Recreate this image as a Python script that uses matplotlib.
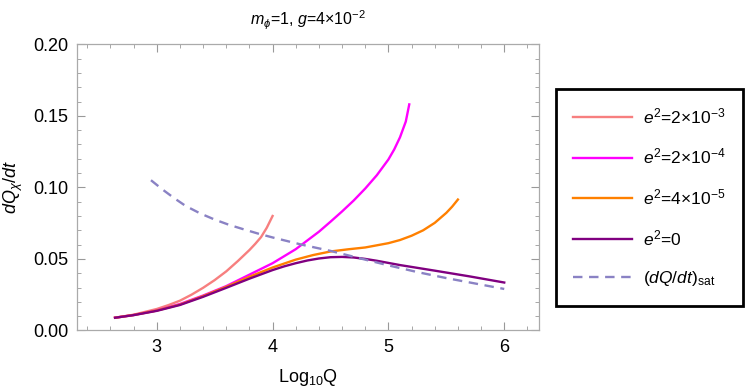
import matplotlib
matplotlib.use("Agg")
import matplotlib.pyplot as plt
from matplotlib.ticker import MultipleLocator

plt.rcParams['font.family'] = ['Liberation Sans', 'DejaVu Sans']
plt.rcParams['mathtext.fontset'] = 'custom'
plt.rcParams['mathtext.rm'] = 'Liberation Sans'
plt.rcParams['mathtext.it'] = 'Liberation Sans:italic'
plt.rcParams['mathtext.bf'] = 'Liberation Sans:bold'

# values (x = log10 Q)
x_e3 = [2.64, 2.8, 3.0, 3.1, 3.2, 3.3, 3.4, 3.5, 3.6, 3.7, 3.8, 3.85, 3.9, 3.95, 4.0]
y_e3 = [0.0089, 0.0110, 0.0150, 0.0177, 0.0208, 0.0250, 0.0298, 0.0352, 0.0413, 0.0485, 0.0562, 0.0605, 0.0652, 0.0718, 0.0800]

x_e4 = [2.64, 2.8, 3.0, 3.2, 3.4, 3.6, 3.8, 4.0, 4.2, 4.4, 4.5, 4.6, 4.7, 4.8, 4.9, 5.0, 5.05, 5.1, 5.15, 5.18]
y_e4 = [0.0089, 0.0108, 0.0140, 0.0185, 0.0244, 0.0310, 0.0390, 0.0470, 0.0568, 0.0690, 0.0760, 0.0832, 0.0908, 0.0992, 0.1085, 0.1195, 0.1265, 0.1350, 0.1460, 0.1580]

x_e5 = [2.64, 2.8, 3.0, 3.2, 3.4, 3.6, 3.8, 4.0, 4.2, 4.35, 4.5, 4.65, 4.8, 5.0, 5.1, 5.2, 5.3, 5.4, 5.5, 5.55, 5.6]
y_e5 = [0.0089, 0.0108, 0.0139, 0.0181, 0.0240, 0.0305, 0.0375, 0.0440, 0.0495, 0.0527, 0.0552, 0.0567, 0.0580, 0.0610, 0.0632, 0.0662, 0.0700, 0.0752, 0.0822, 0.0865, 0.0915]

x_e0 = [2.64, 2.8, 3.0, 3.2, 3.4, 3.6, 3.8, 4.0, 4.1, 4.2, 4.3, 4.4, 4.5, 4.6, 4.7, 4.8, 4.9, 5.1, 5.4, 5.7, 6.0]
y_e0 = [0.0089, 0.0107, 0.0137, 0.0178, 0.0235, 0.0298, 0.0362, 0.0422, 0.0448, 0.0470, 0.0489, 0.0503, 0.0512, 0.0514, 0.0510, 0.0500, 0.0487, 0.0457, 0.0418, 0.0378, 0.0335]

x_sat = [2.95, 3.05, 3.15, 3.25, 3.375, 3.5, 3.625, 3.75, 3.875, 4.0, 4.25, 4.5, 4.75, 5.0, 5.25, 5.5, 5.75, 6.0]
y_sat = [0.105, 0.0985, 0.0925, 0.0870, 0.0818, 0.0775, 0.0738, 0.0707, 0.0677, 0.0650, 0.0600, 0.0556, 0.0505, 0.0455, 0.0408, 0.0366, 0.0328, 0.0290]

labels = [r'$e^2$=2×10$^{-3}$',
          r'$e^2$=2×10$^{-4}$',
          r'$e^2$=4×10$^{-5}$',
          r'$e^2$=0',
          r'($dQ/dt$)$_{\mathrm{sat}}$']

fig = plt.figure(figsize=(7.46, 3.92), dpi=100)
ax = fig.add_axes([0.103, 0.157, 0.6195, 0.730])

lw = 1.7
ax.plot(x_e3, y_e3, color='#f77f7f', lw=lw, label=labels[0])
ax.plot(x_e4, y_e4, color='#ff00ff', lw=lw, label=labels[1])
ax.plot(x_e5, y_e5, color='#ff8000', lw=lw, label=labels[2])
ax.plot(x_e0, y_e0, color='#800080', lw=lw, label=labels[3])
ax.plot(x_sat, y_sat, color='#8a82c4', lw=lw, ls=(0, (4, 2.8)), label=labels[4])

ax.set_xlim(2.31, 6.30)
ax.set_ylim(0, 0.20)
ax.xaxis.set_major_locator(MultipleLocator(1))
ax.xaxis.set_minor_locator(MultipleLocator(0.2))
ax.yaxis.set_minor_locator(MultipleLocator(0.01))
ax.set_yticks([0, 0.05, 0.10, 0.15, 0.20])
ax.set_yticklabels(["0.00", "0.05", "0.10", "0.15", "0.20"])
ax.tick_params(which='both', direction='in', top=True, right=True, color='#999999', labelsize=13, pad=6)
ax.tick_params(which='major', length=6, width=0.8)
ax.tick_params(which='minor', length=3, width=0.6)
for s in ax.spines.values():
    s.set_color('#aaaaaa')
    s.set_linewidth(0.9)

ax.set_xlabel(r'Log$_{10}$Q', fontsize=13, labelpad=8)
ax.set_ylabel(r'$dQ_{\chi}/dt$', fontsize=13, labelpad=6)
ax.set_title(r'$m_{\phi}$=1, $g$=4×10$^{-2}$', fontsize=11.5, pad=14)

leg = fig.legend(loc='center', bbox_to_anchor=(0.8706, 0.497), fontsize=12.5,
                 handlelength=3.4, handletextpad=0.6, labelspacing=1.2,
                 borderpad=1.0, borderaxespad=0, fancybox=False,
                 edgecolor='black', framealpha=1)
leg.get_frame().set_linewidth(2)

fig.savefig('out.png', dpi=100)
